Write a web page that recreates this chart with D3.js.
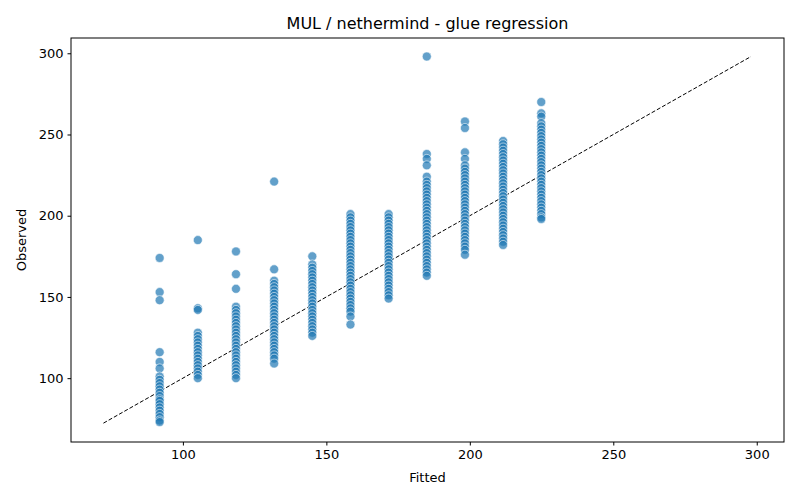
<!DOCTYPE html>
<html><head><meta charset="utf-8">
<script src="https://cdn.jsdelivr.net/npm/d3@7"></script>
<style>body{margin:0;background:#fff}text{font-family:"DejaVu Sans",sans-serif}</style>
</head><body><svg id="c" width="800" height="500"></svg>
<script>
const fittedLevels = [91.9,105.2,118.5,131.8,145.1,158.4,171.7,185.0,198.3,211.6,224.9];
const observedByLevel = [
[174,153,148,116,110,106,101,99,97,95,93,91,89,87,86,84,82,80,78,76,74,73],
[185,143,142,128,126,124,122,120,118,116,114,112,110,108,106,104,102,100],
[178,164,155,144,142,140,138,136,134,132,130,128,126,124,122,120,118,116,114,112,110,108,106,104,102,100],
[221,167,160,158,156,154,152,150,148,146,144,142,140,138,136,134,132,130,128,126,124,122,120,118,116,114,112,109],
[175,170,168,166,164,162,160,158,156,154,152,150,148,146,144,142,140,138,136,134,132,130,128,126],
[201,199,197,195,193,191,189,187,185,183,181,179,177,175,173,171,169,167,165,163,161,159,157,155,153,151,149,147,145,143,141,138,133],
[201,199,197,195,193,191,189,187,185,183,181,179,177,175,173,171,169,167,165,163,161,159,157,155,153,151,149],
[298,238,235,231,224,221,219,217,215,213,211,209,207,205,203,201,199,197,195,193,191,189,187,185,183,181,179,177,175,173,171,169,167,165,163],
[258,254,239,235,231,229,227,225,223,221,219,217,215,213,211,209,207,205,203,201,199,197,195,193,191,189,187,185,183,181,179,176],
[246,244,242,240,238,236,234,232,230,228,226,224,222,220,218,216,214,212,210,208,206,204,202,200,198,196,194,192,190,188,186,184,182],
[270,263,261,257,255,253,251,249,247,245,243,241,239,237,235,233,231,229,227,225,223,221,219,217,215,213,211,209,207,205,203,201,199,198]
];
const xTicks = [100,150,200,250,300];
const yTicks = [100,150,200,250,300];
const refLine = [72.3, 298];

const pts = [];
fittedLevels.forEach((f,i)=>observedByLevel[i].forEach(o=>pts.push({x:f,y:o})));

const svg = d3.select("#c");
const L=71,R=784,T=38,B=442;
const x = d3.scaleLinear().domain([61.0,309.5]).range([L,R]);
const y = d3.scaleLinear().domain([60.7,309.4]).range([B,T]);
const fs = 13;

svg.append("line").attr("x1",x(refLine[0])).attr("y1",y(refLine[0])).attr("x2",x(refLine[1])).attr("y2",y(refLine[1]))
  .attr("stroke","#000").attr("stroke-width",1).attr("stroke-dasharray","4,2");
svg.append("g").selectAll("circle").data(pts).join("circle")
  .attr("cx",d=>x(d.x)).attr("cy",d=>y(d.y)).attr("r",4.5)
  .attr("fill","#1f77b4").attr("fill-opacity",0.7).attr("stroke","#fff").attr("stroke-opacity",0.7).attr("stroke-width",0.8);

const gx = svg.append("g").attr("transform",`translate(0,${B})`).call(d3.axisBottom(x).tickValues(xTicks).tickSize(3.5).tickPadding(4));
const gy = svg.append("g").attr("transform",`translate(${L},0)`).call(d3.axisLeft(y).tickValues(yTicks).tickSize(3.5).tickPadding(4));
[gx,gy].forEach(g=>{g.select(".domain").remove();g.selectAll("text").attr("font-size",fs).attr("fill","#000").style("font-family","DejaVu Sans");g.selectAll("line").attr("stroke","#000");});
svg.append("rect").attr("x",L).attr("y",T).attr("width",R-L).attr("height",B-T).attr("fill","none").attr("stroke","#000").attr("stroke-width",1);

svg.append("text").attr("x",(L+R)/2).attr("y",29).attr("text-anchor","middle").attr("font-size",16).text("MUL / nethermind - glue regression");
svg.append("text").attr("x",(L+R)/2).attr("y",482).attr("text-anchor","middle").attr("font-size",fs).text("Fitted");
svg.append("text").attr("transform",`translate(26,${(T+B)/2}) rotate(-90)`).attr("text-anchor","middle").attr("font-size",fs).text("Observed");
</script></body></html>
